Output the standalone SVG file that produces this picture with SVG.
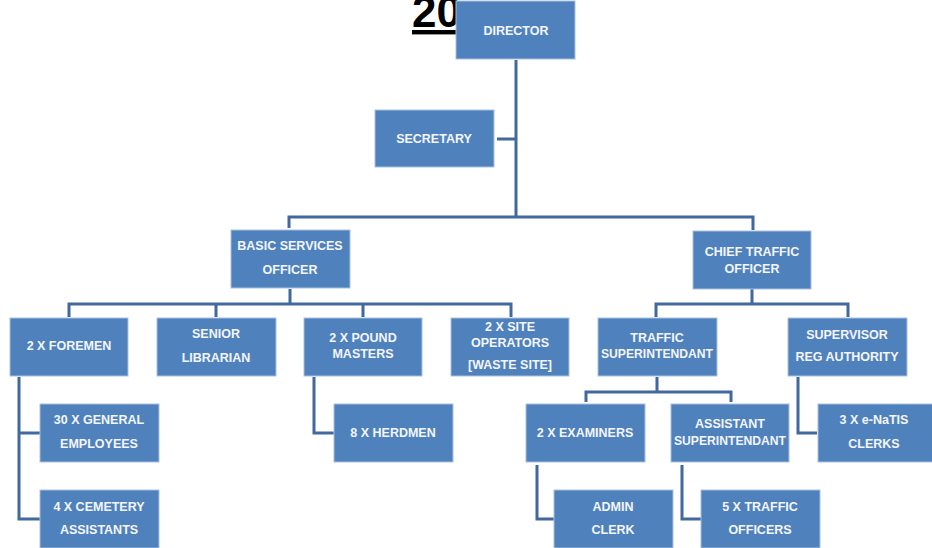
<svg xmlns="http://www.w3.org/2000/svg" width="932" height="548" viewBox="0 0 932 548">
<style>
.box{fill:#4F81BD;stroke:#A9C0E0;stroke-width:1}
.t{font-family:"Liberation Sans",Arial,sans-serif;font-weight:bold;font-size:12.5px;fill:#F4F6FA;text-anchor:middle}
.c{fill:none;stroke:#41699E;stroke-width:3;stroke-linejoin:miter}
.title{font-family:"Liberation Sans",Arial,sans-serif;font-weight:bold;font-size:44px;fill:#000;text-decoration:underline}
</style>
<text class="title" x="412" y="27">20</text>
<g id="connectors">
<path class="c" d="M516,60 V217 M497,139 H516 M289,228 V217 H516 M516,217 H753 V230"/>
<path class="c" d="M290,289 V304 M69,317 V304 H511 V317 M216,304 V317 M363,304 V317"/>
<path class="c" d="M752,289 V304 M656,317 V304 H848 V317"/>
<path class="c" d="M19,377 V519 H40 M19,433 H40"/>
<path class="c" d="M314,377 V433 H334"/>
<path class="c" d="M657,377 V392 M586,402 V392 H731 V402"/>
<path class="c" d="M537,465 V519 H554"/>
<path class="c" d="M682,465 V519 H701"/>
<path class="c" d="M798,377 V433 H817"/>
</g>
<g id="director"><rect class="box" x="456" y="1" width="119" height="58"/><text class="t" x="516" y="35">DIRECTOR</text></g>
<g id="secretary"><rect class="box" x="375" y="110" width="119" height="57"/><text class="t" x="434" y="143">SECRETARY</text></g>
<g id="basic"><rect class="box" x="231" y="230" width="119" height="58"/><text class="t" x="290" y="250">BASIC SERVICES</text><text class="t" x="290" y="274">OFFICER</text></g>
<g id="chief"><rect class="box" x="693" y="231" width="118" height="58"/><text class="t" x="752" y="256">CHIEF TRAFFIC</text><text class="t" x="752" y="273">OFFICER</text></g>
<g id="foremen"><rect class="box" x="10" y="318" width="118" height="58"/><text class="t" x="69" y="350">2 X FOREMEN</text></g>
<g id="librarian"><rect class="box" x="157" y="318" width="119" height="58"/><text class="t" x="216" y="338">SENIOR</text><text class="t" x="216" y="362">LIBRARIAN</text></g>
<g id="pound"><rect class="box" x="304" y="318" width="118" height="58"/><text class="t" x="363" y="342">2 X POUND</text><text class="t" x="363" y="358">MASTERS</text></g>
<g id="site"><rect class="box" x="451" y="318" width="118" height="58"/><text class="t" x="510" y="331">2 X SITE</text><text class="t" x="510" y="347">OPERATORS</text><text class="t" x="510" y="369">[WASTE SITE]</text></g>
<g id="superintendant"><rect class="box" x="598" y="318" width="119" height="58"/><text class="t" x="657" y="342">TRAFFIC</text><text class="t" x="657" y="358" textLength="112" lengthAdjust="spacingAndGlyphs">SUPERINTENDANT</text></g>
<g id="supervisor"><rect class="box" x="788" y="318" width="119" height="58"/><text class="t" x="847" y="339">SUPERVISOR</text><text class="t" x="847" y="361">REG AUTHORITY</text></g>
<g id="general"><rect class="box" x="40" y="404" width="119" height="58"/><text class="t" x="99" y="424">30 X  GENERAL</text><text class="t" x="99" y="448">EMPLOYEES</text></g>
<g id="cemetery"><rect class="box" x="40" y="490" width="119" height="58"/><text class="t" x="99" y="511">4 X CEMETERY</text><text class="t" x="99" y="534">ASSISTANTS</text></g>
<g id="herdmen"><rect class="box" x="334" y="404" width="119" height="58"/><text class="t" x="393" y="437">8 X HERDMEN</text></g>
<g id="examiners"><rect class="box" x="526" y="404" width="119" height="58"/><text class="t" x="585" y="437">2 X EXAMINERS</text></g>
<g id="assistant"><rect class="box" x="671" y="404" width="118" height="58"/><text class="t" x="730" y="428">ASSISTANT</text><text class="t" x="730" y="445" textLength="112" lengthAdjust="spacingAndGlyphs">SUPERINTENDANT</text></g>
<g id="enatis"><rect class="box" x="818" y="404" width="116" height="58"/><text class="t" x="874" y="424">3 X e-NaTIS</text><text class="t" x="874" y="448">CLERKS</text></g>
<g id="admin"><rect class="box" x="554" y="490" width="119" height="58"/><text class="t" x="613" y="511">ADMIN</text><text class="t" x="613" y="534">CLERK</text></g>
<g id="officers"><rect class="box" x="701" y="490" width="119" height="58"/><text class="t" x="760" y="511">5 X TRAFFIC</text><text class="t" x="760" y="534">OFFICERS</text></g>
</svg>
